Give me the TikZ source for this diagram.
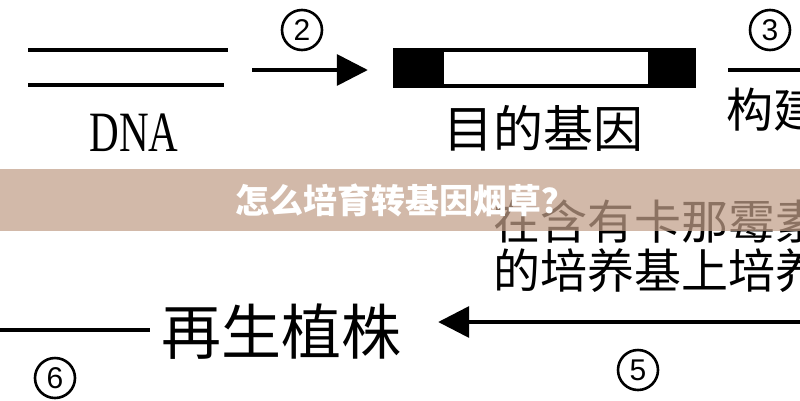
\documentclass[tikz,border=0pt]{standalone}
\usepackage{fontspec}
\usepackage{graphicx}
\usetikzlibrary{arrows.meta}
\newfontfamily\cjk{Noto Sans CJK SC}
\newfontfamily\lserif{Liberation Serif}
\newfontfamily\lsans{Liberation Sans}
\definecolor{bannerc}{RGB}{193,158,136}
\tikzset{
  thick line/.style={line width=3.5pt},
  arrowline/.style={line width=3.5pt, -{Triangle[length=31pt,width=31pt]}},
  cnum/.style={circle, draw, line width=2.6pt, minimum size=40pt, inner sep=0pt,
    font=\lsans\fontsize{30}{30}\selectfont},
  cjktext/.style={inner sep=0pt, font=\cjk\fontsize{#1}{#1}\selectfont},
}
\begin{document}
\begin{tikzpicture}[x=1pt,y=-1pt]
\useasboundingbox (0,0) rectangle (800,400);
\clip (0,0) rectangle (800,400);
\fill[white] (0,0) rectangle (800,400);
% DNA
\coordinate (dnaA1) at (28,50);
\coordinate (dnaA2) at (228,50);
\coordinate (dnaB1) at (28,85);
\coordinate (dnaB2) at (224,85);
\draw[thick line] (dnaA1) -- (dnaA2);
\draw[thick line] (dnaB1) -- (dnaB2);
\node[anchor=base, inner sep=0pt] (dna) at (134,151)
  {\scalebox{0.72}[1]{\lserif\fontsize{57}{57}\selectfont DNA}};
% arrow 2
\node[cnum] (n2) at (302,30) {2};
\coordinate (a2s) at (252,70);
% gene box
\node[fill=black, minimum width=303pt, minimum height=40pt, inner sep=0pt] (gene) at (544.5,68) {};
\node[fill=white, minimum width=204pt, minimum height=32pt, inner sep=0pt] (geneinner) at (546,68) {};
\draw[arrowline] (a2s) -- ([xshift=-25pt]gene.west |- a2s);
\node[cjktext=50] (genetext) at (543,128.5) {目的基因};
% step 3
\node[cnum] (n3) at (770,30) {3};
\coordinate (a3s) at (728,70);
\coordinate (a3e) at (810,70);
\draw[thick line] (a3s) -- (a3e);
\node[cjktext=47, anchor=west] (build) at (726,110) {构建基因表达载体};
% medium text
\node[cjktext=47, anchor=west] (med1) at (493,222) {在含有卡那霉素};
\node[cjktext=47, anchor=west] (med2) at (493,271) {的培养基上培养};
% bottom arrow 5
\node[cjktext=60] (plant) at (281,332) {再生植株};
\coordinate (a5s) at (810,322);
\draw[arrowline] (a5s) -- ([xshift=37pt]plant.east |- a5s);
\node[cnum] (n5) at (638,370) {5};
% left line 6
\coordinate (a6s) at (0,330);
\draw[thick line] (a6s) -- ([xshift=-11pt]plant.west |- a6s);
\node[cnum] (n6) at (55,378) {6};
% banner
\fill[bannerc, opacity=0.72] (0,169) rectangle (800,231);
\node[inner sep=0pt, text=white, font=\cjk\bfseries\fontsize{34}{34}\selectfont] (title) at (405,200) {怎么培育转基因烟草？};
\end{tikzpicture}
\end{document}
